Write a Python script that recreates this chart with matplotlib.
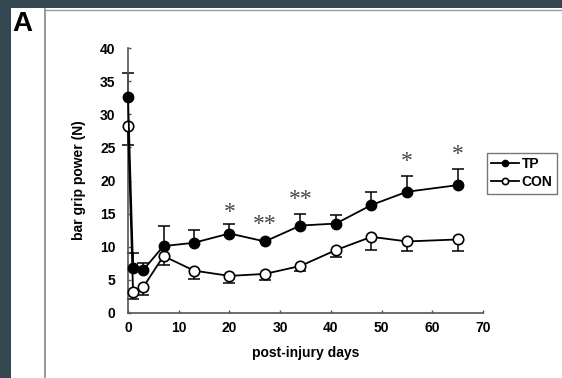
import matplotlib
matplotlib.use("Agg")
import matplotlib.pyplot as plt
import numpy as np

plt.rcParams['font.family'] = ['Liberation Sans', 'DejaVu Sans']

# data
days = [0, 1, 3, 7, 13, 20, 27, 34, 41, 48, 55, 65]
tp_mean = [32.6, 6.8, 6.5, 10.1, 10.6, 12.0, 10.8, 13.2, 13.5, 16.3, 18.3, 19.3]
tp_top = [36.2, 9.0, 7.6, 13.2, 12.5, 13.4, 10.8, 15.0, 14.8, 18.3, 20.7, 21.7]
con_mean = [28.2, 3.2, 3.9, 8.6, 6.4, 5.6, 5.9, 7.1, 9.5, 11.5, 10.8, 11.1]
con_bottom = [25.3, 2.1, 2.7, 7.2, 5.2, 4.5, 5.0, 6.4, 8.5, 9.5, 9.4, 9.4]

star_days = [20, 27, 34, 55, 65]
star_y = [15.1, 13.4, 17.2, 22.8, 23.9]
star_txt = ["*", "**", "**", "*", "*"]

fig = plt.figure(figsize=(5.62, 3.78), dpi=100, facecolor='#34464f')

# white page area + thin grey frame lines
fig.patches.append(plt.Rectangle((11 / 562, 0), 1, 1 - 8 / 378, transform=fig.transFigure,
                                 facecolor='white', edgecolor='none', zorder=-10))
fig.lines.append(plt.Line2D([45 / 562, 45 / 562], [0, 1 - 9 / 378], transform=fig.transFigure,
                            color='#888888', lw=1.2, zorder=-5))
fig.lines.append(plt.Line2D([45 / 562, 1], [1 - 10 / 378, 1 - 10 / 378], transform=fig.transFigure,
                            color='#999999', lw=1.0, zorder=-5))
fig.text(12 / 562, 1 - 31 / 378, "A", fontsize=20, fontweight='bold', color='black')

ax = fig.add_axes([128 / 562, 1 - 313 / 378, 355 / 562, 265 / 378])
ax.set_zorder(2)
ax.set_facecolor('none')

# error bars: TP upward, CON downward
ax.vlines(days, tp_mean, tp_top, color='black', lw=1.1, zorder=2, clip_on=False)
ax.plot(days, tp_top, linestyle='none', marker='_', markersize=9, mew=1.1, color='black',
        zorder=2, clip_on=False)
ax.vlines(days, con_bottom, con_mean, color='black', lw=1.1, zorder=2, clip_on=False)
ax.plot(days, con_bottom, linestyle='none', marker='_', markersize=9, mew=1.1, color='black',
        zorder=2, clip_on=False)

ax.plot(days, tp_mean, color='black', lw=1.3, marker='o', markersize=7.5,
        markerfacecolor='black', markeredgecolor='black', label='TP', zorder=4, clip_on=False)
ax.plot(days, con_mean, color='black', lw=1.3, marker='o', markersize=7.5,
        markerfacecolor='white', markeredgecolor='black', mew=1.2, label='CON', zorder=3,
        clip_on=False)

for d, s, t in zip(star_days, star_y, star_txt):
    ax.text(d, s, t, ha='center', va='center', fontsize=17, color='#444444',
            family='Liberation Serif')

ax.set_xlim(0, 70)
ax.set_ylim(0, 40)
ax.set_xticks(range(0, 71, 10))
ax.set_yticks(range(0, 41, 5))
ax.spines['top'].set_visible(False)
ax.spines['right'].set_visible(False)
for s in ['left', 'bottom']:
    ax.spines[s].set_color('#555555')
    ax.spines[s].set_linewidth(1.2)
ax.tick_params(direction='in', length=2.5, width=1, colors='#555555', labelcolor='black')
ax.tick_params(axis='y', pad=9)
ax.tick_params(axis='x', pad=6)
for lab in ax.get_xticklabels() + ax.get_yticklabels():
    lab.set_fontweight('bold')
    lab.set_fontsize(10)

ax.set_ylabel("bar grip power (N)", fontsize=10, fontweight='bold', labelpad=10)
ax.set_xlabel("post-injury days", fontsize=10, fontweight='bold', labelpad=8)

leg = fig.legend(loc='upper left', bbox_to_anchor=(487 / 562, 1 - 153 / 378), markerscale=0.6,
                 frameon=True, fancybox=False, edgecolor='#555555', handlelength=2.0,
                 handletextpad=0.2, borderpad=0.3, labelspacing=0.3, borderaxespad=0,
                 prop={'weight': 'bold', 'size': 10})
leg.get_frame().set_linewidth(1.0)

fig.savefig("out.png", dpi=100, facecolor=fig.get_facecolor())
